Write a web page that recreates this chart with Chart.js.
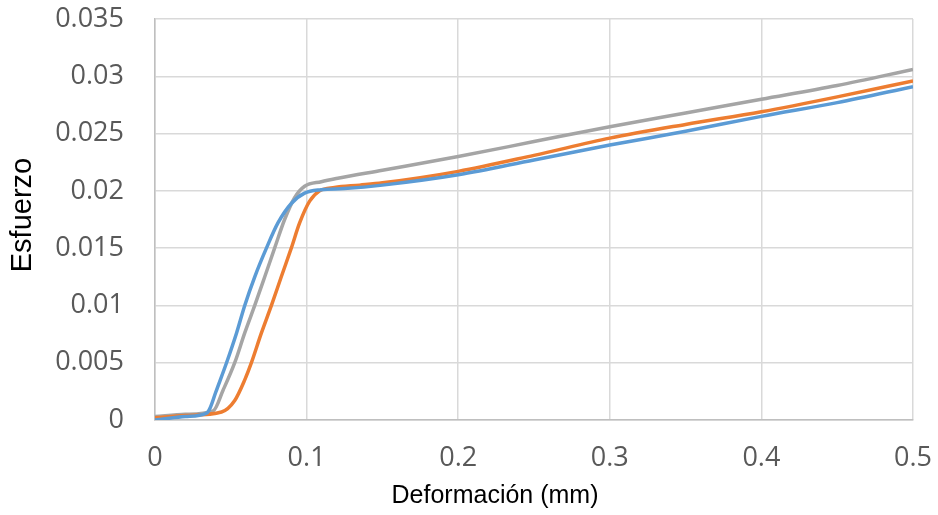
<!DOCTYPE html>
<html>
<head>
<meta charset="utf-8">
<script src="https://cdn.jsdelivr.net/npm/chart.js@4/dist/chart.umd.min.js"></script>
<style>
  html, body { margin: 0; padding: 0; background: #ffffff; }
  #wrap { width: 938px; height: 515px; position: relative; }
</style>
</head>
<body>
<div id="wrap"><canvas id="c" width="938" height="515"></canvas></div>
<script>
// ---- data ----
const xTitle = "Deformación (mm)";
const yTitle = "Esfuerzo";
const xTicks = [0, 0.1, 0.2, 0.3, 0.4, 0.5];
const yTicks = [0, 0.005, 0.01, 0.015, 0.02, 0.025, 0.03, 0.035];

const blueX = [0, 0.02, 0.0340, 0.0365, 0.0400, 0.0472, 0.0538, 0.0592, 0.0658, 0.0735, 0.0811, 0.0899, 0.0987, 0.1097, 0.125, 0.15, 0.2, 0.25, 0.3, 0.35, 0.4, 0.45, 0.5];
const blueY = [0.0000, 0.0003, 0.0006, 0.0011, 0.0024, 0.0050, 0.0076, 0.0100, 0.0125, 0.0150, 0.0172, 0.0189, 0.0198, 0.0201, 0.0202, 0.0205, 0.0214, 0.0227, 0.0240, 0.0252, 0.0265, 0.0277, 0.0291];

const orangeX = [0, 0.02, 0.0439, 0.0526, 0.0592, 0.0636, 0.0702, 0.0768, 0.0833, 0.0899, 0.0954, 0.1020, 0.1086, 0.1184, 0.135, 0.15, 0.2, 0.25, 0.3, 0.35, 0.4, 0.45, 0.5];
const orangeY = [0.0002, 0.0004, 0.0007, 0.0017, 0.0035, 0.0050, 0.0076, 0.0100, 0.0125, 0.0150, 0.0172, 0.0191, 0.0200, 0.0203, 0.0205, 0.0207, 0.0217, 0.0231, 0.0246, 0.0258, 0.0269, 0.0282, 0.0296];

const grayX = [0, 0.02, 0.0384, 0.0449, 0.0526, 0.0592, 0.0658, 0.0724, 0.0789, 0.0855, 0.0921, 0.0987, 0.1097, 0.1206, 0.15, 0.2, 0.25, 0.3, 0.35, 0.4, 0.45, 0.5];
const grayY = [0.0003, 0.0005, 0.0008, 0.0026, 0.0050, 0.0076, 0.0100, 0.0125, 0.0150, 0.0175, 0.0194, 0.0204, 0.0208, 0.0211, 0.0218, 0.0230, 0.0243, 0.0256, 0.0268, 0.0280, 0.0292, 0.0306];

function pts(xs, ys) { return xs.map((x, i) => ({ x: x, y: ys[i] })); }

const tickFont = { family: "'Open Sans', sans-serif", size: 27 };
const tickColor = '#595959';
const gridColor = '#D9D9D9';

const titlePlugin = {
  id: 'axisTitles',
  afterDraw(chart) {
    const ctx = chart.ctx;
    ctx.save();
    ctx.fillStyle = '#000000';
    ctx.textAlign = 'center';
    ctx.textBaseline = 'middle';
    ctx.font = "25px 'Liberation Sans', Arial, sans-serif";
    ctx.fillText(xTitle, 495, 496);
    ctx.translate(23, 215);
    ctx.rotate(-Math.PI / 2);
    ctx.font = "29px 'Liberation Sans', Arial, sans-serif";
    ctx.fillText(yTitle, 0, 0);
    ctx.restore();
  }
};

function lineDs(label, xs, ys, color) {
  return {
    label: label,
    data: pts(xs, ys),
    borderColor: color,
    backgroundColor: color,
    borderWidth: 3.5,
    pointRadius: 0,
    showLine: true,
    fill: false,
    cubicInterpolationMode: 'monotone'
  };
}

new Chart(document.getElementById('c'), {
  type: 'scatter',
  data: {
    datasets: [
      lineDs('Serie 1', blueX, blueY, '#5B9BD5'),
      lineDs('Serie 2', orangeX, orangeY, '#ED7D31'),
      lineDs('Serie 3', grayX, grayY, '#A5A5A5')
    ]
  },
  options: {
    responsive: false,
    animation: false,
    devicePixelRatio: 1,
    layout: { padding: { top: 19, right: 25, left: 0, bottom: 0 } },
    plugins: { legend: { display: false }, tooltip: { enabled: false } },
    scales: {
      x: {
        type: 'linear',
        min: 0, max: 0.5,
        afterBuildTicks(scale) { scale.ticks = xTicks.map(v => ({ value: v })); },
        afterFit(scale) { scale.height = 95; scale.paddingLeft = 0; scale.paddingRight = 0; },
        grid: { color: gridColor, lineWidth: 1.5, drawTicks: false },
        border: { color: '#BFBFBF', width: 1.5 },
        ticks: { font: tickFont, color: tickColor, padding: 22, maxRotation: 0,
                 callback: v => String(v) }
      },
      y: {
        type: 'linear',
        min: 0, max: 0.035,
        afterBuildTicks(scale) { scale.ticks = yTicks.map(v => ({ value: v })); },
        afterFit(scale) { scale.width = 155; scale.paddingTop = 0; scale.paddingBottom = 0; },
        grid: { color: gridColor, lineWidth: 1.5, drawTicks: false },
        border: { color: '#BFBFBF', width: 1.5 },
        ticks: { font: tickFont, color: tickColor, padding: 31,
                 callback: v => String(v) }
      }
    }
  },
  plugins: [titlePlugin]
});
</script>
</body>
</html>
